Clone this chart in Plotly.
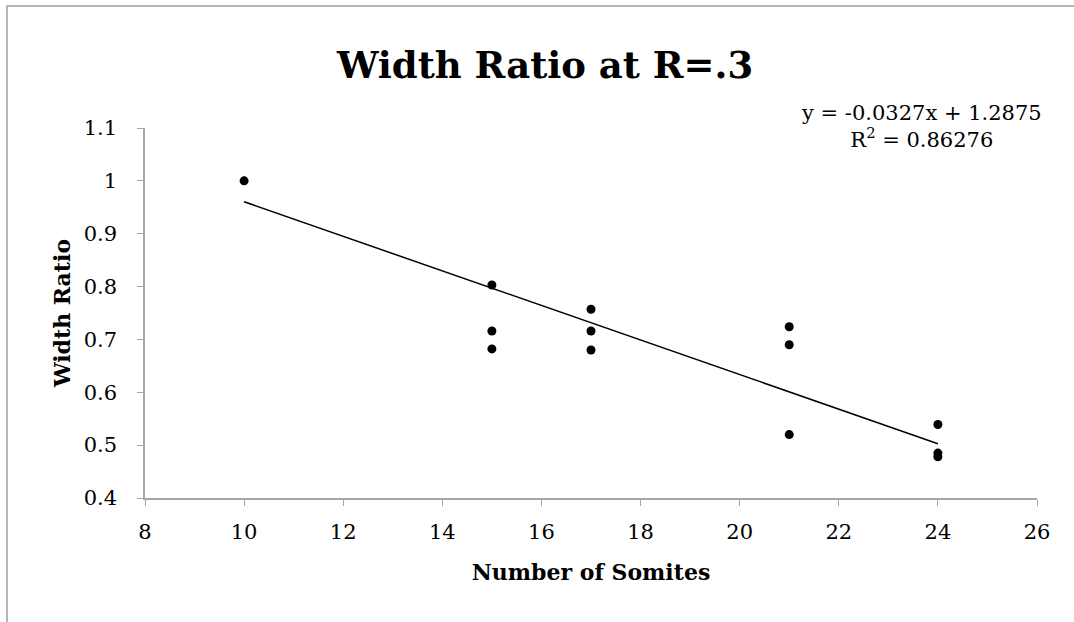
import plotly.graph_objects as go

somites = [10, 15, 15, 15, 17, 17, 17, 21, 21, 21, 24, 24, 24]
width_ratio = [1.0, 0.803, 0.716, 0.682, 0.757, 0.716, 0.680, 0.724, 0.690, 0.520, 0.539, 0.485, 0.478]
slope = -0.0327
intercept = 1.2875
r2 = 0.86276
trend_x = [min(somites), max(somites)]
trend_y = [slope * x + intercept for x in trend_x]

FONT = "DejaVu Serif"
AXIS_COLOR = "#a6a6a6"

fig = go.Figure()
fig.add_trace(go.Scatter(x=somites, y=width_ratio, mode="markers",
                         marker=dict(color="black", size=9), showlegend=False))
fig.add_trace(go.Scatter(x=trend_x, y=trend_y, mode="lines",
                         line=dict(color="black", width=1.5), showlegend=False))

fig.update_layout(
    width=1074, height=622,
    margin=dict(l=145, r=37, t=128, b=124),
    paper_bgcolor="white", plot_bgcolor="white",
    font=dict(family=FONT, color="black", size=21),
    title=dict(text="<b>Width Ratio at R=.3</b>", x=0.5075, xanchor="center",
               y=0.895, yanchor="middle", font=dict(size=37, family=FONT)),
    xaxis=dict(range=[8, 26], tickmode="linear", tick0=8, dtick=2,
               showgrid=False, zeroline=False, showline=True, linecolor=AXIS_COLOR,
               linewidth=1.5, ticks="outside", ticklen=6, tickcolor=AXIS_COLOR,
               tickfont=dict(size=21), ticklabelstandoff=8,
               title=dict(text="<b>Number of Somites</b>", font=dict(size=22), standoff=22)),
    yaxis=dict(range=[0.4, 1.1], tickmode="linear", tick0=0.4, dtick=0.1,
               showgrid=False, zeroline=False, showline=True, linecolor=AXIS_COLOR,
               linewidth=1.5, ticks="outside", ticklen=6, tickcolor=AXIS_COLOR,
               tickfont=dict(size=21), ticklabelstandoff=16,
               title=dict(text="<b>Width Ratio</b>", font=dict(size=22), standoff=7)),
    annotations=[dict(
        text=f"y = {slope}x + {intercept}<br>R<sup>2</sup> = {r2}",
        xref="paper", yref="paper", x=0.87, y=1.004, xanchor="center", yanchor="middle",
        showarrow=False, align="center", font=dict(size=21, family=FONT))],
    shapes=[dict(type="rect", xref="paper", yref="paper",
                 x0=-138/892, x1=1029/892, y0=-130/370, y1=(498-6)/370,
                 line=dict(color="#a0a0a0", width=1.5), fillcolor="rgba(0,0,0,0)")],
)

fig.write_html("out.html")
